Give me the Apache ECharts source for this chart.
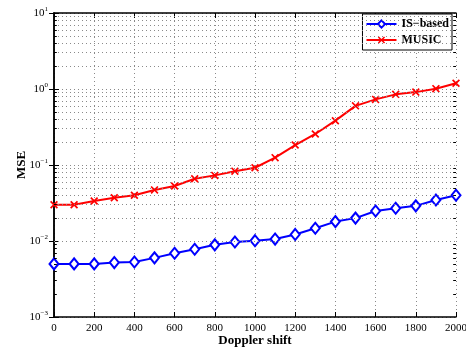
<!DOCTYPE html>
<html>
<head>
<meta charset="utf-8">
<script src="https://cdn.jsdelivr.net/npm/echarts@6/dist/echarts.min.js"></script>
<style>
  html, body { margin: 0; padding: 0; background: #fff; }
  #chart { width: 466px; height: 350px; }
</style>
</head>
<body>
<div id="chart"></div>
<script>
// Doppler shift values (x axis)
const dopplerShift = [0, 100, 200, 300, 400, 500, 600, 700, 800, 900, 1000,
  1100, 1200, 1300, 1400, 1500, 1600, 1700, 1800, 1900, 2000];

// MSE
const isBased = [0.0050, 0.0050, 0.0050, 0.0052, 0.0053, 0.0060, 0.0069, 0.0078, 0.0089, 0.0097, 0.0101,
  0.0106, 0.0122, 0.0147, 0.0180, 0.0200, 0.0248, 0.0270, 0.0290, 0.0346, 0.0400];
const music = [0.030, 0.030, 0.0336, 0.037, 0.040, 0.047, 0.053, 0.066, 0.073, 0.083, 0.092,
  0.125, 0.183, 0.256, 0.383, 0.60, 0.73, 0.85, 0.91, 1.01, 1.19];

// log grid positions between decades
const minorGridValues = [0.002, 0.003, 0.004, 0.005, 0.006, 0.007, 0.008, 0.009,
  0.02, 0.03, 0.04, 0.05, 0.06, 0.07, 0.08, 0.09,
  0.2, 0.3, 0.4, 0.5, 0.6, 0.7, 0.8, 0.9,
  2, 3, 4, 5, 6, 7, 8, 9];

const FONT = '"Liberation Serif", "DejaVu Serif", serif';
const gridDots = { color: '#8a8a8a', width: 1, type: [1, 3] };

const chart = echarts.init(document.getElementById('chart'));

// dotted minor grid plus short inward minor ticks on both sides
const minorMarks = [];
minorGridValues.forEach((v) => {
  minorMarks.push({ yAxis: v, lineStyle: gridDots });
  minorMarks.push([
    { coord: [0, v], lineStyle: { color: '#000', width: 1, type: 'solid' } },
    { coord: [14, v] },
  ]);
  minorMarks.push([
    { coord: [1986, v], lineStyle: { color: '#000', width: 1, type: 'solid' } },
    { coord: [2000, v] },
  ]);
});

const supLabel = (v) => {
  const e = Math.round(Math.log10(v));
  return '{b|10}{s|' + (e < 0 ? '\u2212' + (-e) : e) + '}';
};

const option = {
  backgroundColor: '#fff',
  animation: false,
  grid: { left: 54, right: 10, top: 13, bottom: 33, outerBoundsMode: 'none', containLabel: false },
  legend: {
    right: 14,
    top: 14,
    orient: 'vertical',
    backgroundColor: '#fff',
    borderColor: '#000',
    borderWidth: 1,
    borderRadius: 0,
    padding: [4, 3, 4, 3],
    itemGap: 4,
    itemWidth: 30,
    itemHeight: 9,
    textStyle: { fontFamily: FONT, fontWeight: 'bold', fontSize: 12, color: '#000' },
    data: ['IS\u2212based', 'MUSIC'],
  },
  xAxis: [
    {
      type: 'value',
      min: 0,
      max: 2000,
      interval: 200,
      name: 'Doppler shift',
      nameLocation: 'middle',
      nameGap: 17,
      nameMoveOverlap: false,
      nameTextStyle: { fontFamily: FONT, fontWeight: 'bold', fontSize: 13, color: '#000' },
      axisLine: { lineStyle: { color: '#000', width: 1.5 } },
      axisTick: { inside: true, length: 5, lineStyle: { color: '#000' } },
      axisLabel: { fontFamily: FONT, fontSize: 11, color: '#000', margin: 6, formatter: (v) => String(v) },
      splitLine: { show: true, lineStyle: gridDots },
    },
    {
      type: 'value',
      position: 'top',
      min: 0,
      max: 2000,
      interval: 200,
      axisLine: { lineStyle: { color: '#000', width: 1.5 } },
      axisTick: { inside: true, length: 5, lineStyle: { color: '#000' } },
      axisLabel: { show: false },
      splitLine: { show: false },
    },
  ],
  yAxis: [
    {
      type: 'log',
      logBase: 10,
      min: 0.001,
      max: 10,
      name: 'MSE',
      nameLocation: 'middle',
      nameGap: 26,
      nameMoveOverlap: false,
      nameTextStyle: { fontFamily: FONT, fontWeight: 'bold', fontSize: 13, color: '#000' },
      axisLine: { lineStyle: { color: '#000', width: 1.5 } },
      axisTick: { inside: true, length: 5, lineStyle: { color: '#000' } },
      axisLabel: {
        margin: 6,
        formatter: supLabel,
        rich: {
          b: { fontFamily: FONT, fontSize: 11, color: '#000' },
          s: { fontFamily: FONT, fontSize: 7, color: '#000', padding: [0, 0, 8, 0] },
        },
      },
      splitLine: { show: true, lineStyle: gridDots },
    },
    {
      type: 'log',
      logBase: 10,
      min: 0.001,
      max: 10,
      position: 'right',
      axisLine: { lineStyle: { color: '#000', width: 1.5 } },
      axisTick: { inside: true, length: 5, lineStyle: { color: '#000' } },
      axisLabel: { show: false },
      splitLine: { show: false },
    },
  ],
  series: [
    {
      name: 'IS\u2212based',
      type: 'line',
      data: dopplerShift.map((x, i) => [x, isBased[i]]),
      symbol: 'diamond',
      symbolSize: [9, 11],
      showAllSymbol: true,
      lineStyle: { color: '#0000ff', width: 2 },
      itemStyle: { color: '#fff', borderColor: '#0000ff', borderWidth: 2 },
      z: 3,
      markLine: {
        silent: true,
        symbol: 'none',
        label: { show: false },
        animation: false,
        data: minorMarks,
      },
    },
    {
      name: 'MUSIC',
      type: 'line',
      data: dopplerShift.map((x, i) => [x, music[i]]),
      symbol: 'path://M0,1.5L1.5,0L5,3.5L8.5,0L10,1.5L6.5,5L10,8.5L8.5,10L5,6.5L1.5,10L0,8.5L3.5,5Z',
      symbolSize: 8,
      showAllSymbol: true,
      lineStyle: { color: '#ff0000', width: 2 },
      itemStyle: { color: '#ff0000' },
      z: 4,
    },
  ],
};

chart.setOption(option);
</script>
</body>
</html>
